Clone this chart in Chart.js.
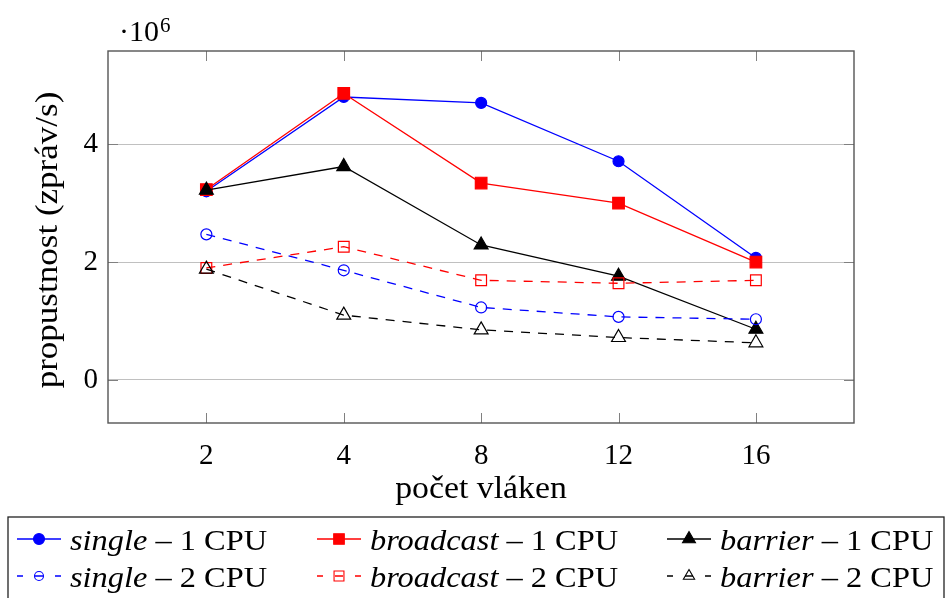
<!DOCTYPE html>
<html lang="cs">
<head>
    <meta charset="UTF-8">
    <title>Propustnost podle počtu vláken</title>
    <script src="https://cdn.jsdelivr.net/npm/chart.js"></script>
    <style>
        html, body { margin: 0; padding: 0; background: #fff; }
        .container { width: 947px; height: 598px; }
    </style>
</head>
<body>
    <div class="container">
        <canvas id="propustnostChart" width="947" height="598"></canvas>
    </div>

    <script>
        // data (hodnoty v milionech zpráv/s)
        const categories = ['2', '4', '8', '12', '16'];
        const yTicks = [0, 2, 4];
        const single1 = [3.20, 4.80, 4.70, 3.71, 2.07];
        const broadcast1 = [3.23, 4.86, 3.34, 3.00, 2.00];
        const barrier1 = [3.22, 3.62, 2.29, 1.76, 0.86];
        const single2 = [2.47, 1.86, 1.23, 1.07, 1.03];
        const broadcast2 = [1.90, 2.26, 1.69, 1.64, 1.69];
        const barrier2 = [1.88, 1.10, 0.85, 0.72, 0.63];
        const seriesNames = ['single', 'broadcast', 'barrier'];
        const cpuLabels = ['1 CPU', '2 CPU'];

        const serif = "'Liberation Serif', 'DejaVu Serif', serif";

        function toPoints(arr) {
            return arr.map((v, i) => ({ x: i, y: v }));
        }

        function makeSet(label, values, color, style, radius, filled, dashed, order) {
            return {
                label: label,
                data: toPoints(values),
                borderColor: color,
                borderWidth: 1.3,
                borderDash: dashed ? [9, 8] : [],
                pointStyle: style,
                pointRadius: radius,
                pointBorderWidth: 1.2,
                pointBorderColor: color,
                pointBackgroundColor: filled ? color : 'rgba(0,0,0,0)',
                tension: 0,
                fill: false,
                order: order
            };
        }

        // text trochu roztažený do šířky (Computer Modern je širší než Times)
        function wideText(ctx, text, x, y, sx) {
            ctx.save();
            ctx.translate(x, y);
            ctx.scale(sx, 1);
            ctx.fillText(text, 0, 0);
            ctx.restore();
            return ctx.measureText(text).width * sx;
        }

        // vlastní kreslení značky do legendy
        function drawMarker(ctx, style, x, y, r, filled, color) {
            ctx.save();
            ctx.setLineDash([]);
            ctx.beginPath();
            if (style === 'circle') {
                ctx.arc(x, y, r, 0, Math.PI * 2);
            } else if (style === 'rect') {
                const s = r * Math.SQRT1_2;
                ctx.rect(x - s, y - s, 2 * s, 2 * s);
            } else {
                for (let k = 0; k < 3; k++) {
                    const a = k * 2 * Math.PI / 3;
                    const px = x + Math.sin(a) * r, py = y - Math.cos(a) * r;
                    if (k) ctx.lineTo(px, py); else ctx.moveTo(px, py);
                }
                ctx.closePath();
            }
            if (filled) { ctx.fillStyle = color; ctx.fill(); }
            ctx.lineWidth = 1.1;
            ctx.strokeStyle = color;
            ctx.stroke();
            ctx.restore();
        }

        // rámeček, značky os, popisky os
        const axisFrame = {
            id: 'axisFrame',
            afterDatasetsDraw(chart) {
                const ctx = chart.ctx;
                const a = chart.chartArea;
                const xs = chart.scales.x, ys = chart.scales.y;
                ctx.save();
                ctx.strokeStyle = '#808080';
                ctx.lineWidth = 1;
                ctx.beginPath();
                xs.ticks.forEach(t => {
                    const px = Math.round(xs.getPixelForValue(t.value)) + 0.5;
                    ctx.moveTo(px, a.top); ctx.lineTo(px, a.top + 10);
                    ctx.moveTo(px, a.bottom); ctx.lineTo(px, a.bottom - 10);
                });
                ys.ticks.forEach(t => {
                    const py = Math.round(ys.getPixelForValue(t.value)) + 0.5;
                    ctx.moveTo(a.left, py); ctx.lineTo(a.left + 10, py);
                    ctx.moveTo(a.right, py); ctx.lineTo(a.right - 10, py);
                });
                ctx.stroke();
                ctx.strokeStyle = '#555';
                ctx.lineWidth = 1.4;
                ctx.strokeRect(a.left, a.top, a.right - a.left, a.bottom - a.top);

                ctx.fillStyle = '#000';
                ctx.font = '31px ' + serif;
                ctx.textAlign = 'center';
                ctx.textBaseline = 'alphabetic';
                wideText(ctx, 'počet vláken', (a.left + a.right) / 2, 498, 1.09);

                ctx.save();
                ctx.translate(57, 240);
                ctx.rotate(-Math.PI / 2);
                wideText(ctx, 'propustnost (zpráv/s)', 0, 0, 1.13);
                ctx.restore();

                ctx.textAlign = 'left';
                ctx.font = '30px ' + serif;
                ctx.fillText('·10', 119, 41);
                const w = ctx.measureText('·10').width;
                ctx.font = '21px ' + serif;
                ctx.fillText('6', 119 + w + 1, 32);
                ctx.restore();
            }
        };

        const legendBox = {
            id: 'legendBox',
            afterDraw(chart) {
                const ctx = chart.ctx;
                const colX = [17, 317, 667];
                const rowY = [539, 576];
                const baseY = [550, 587];
                const sx = 1.08;
                ctx.save();
                ctx.strokeStyle = '#222';
                ctx.lineWidth = 1.3;
                ctx.strokeRect(8, 517, 936, 100);
                chart.data.datasets.forEach((ds, i) => {
                    const col = i % 3, row = Math.floor(i / 3);
                    const x0 = colX[col], y = rowY[row];
                    ctx.strokeStyle = ds.borderColor;
                    ctx.lineWidth = 1.3;
                    ctx.beginPath();
                    if (row === 0) {
                        ctx.moveTo(x0, y); ctx.lineTo(x0 + 44, y);
                    } else {
                        ctx.moveTo(x0, y); ctx.lineTo(x0 + 6, y);
                        ctx.moveTo(x0 + 38, y); ctx.lineTo(x0 + 44, y);
                        ctx.moveTo(x0 + 18, y); ctx.lineTo(x0 + 26, y);
                    }
                    ctx.stroke();
                    let r;
                    if (ds.pointStyle === 'triangle') r = row === 0 ? 7.5 : 6.5;
                    else if (ds.pointStyle === 'rect') r = row === 0 ? 7.5 : 7;
                    else r = row === 0 ? 5.5 : 4.5;
                    drawMarker(ctx, ds.pointStyle, x0 + 22, y, r, row === 0, ds.borderColor);

                    ctx.fillStyle = '#000';
                    ctx.textAlign = 'left';
                    ctx.textBaseline = 'alphabetic';
                    ctx.font = 'italic 30px ' + serif;
                    const w = wideText(ctx, seriesNames[col], x0 + 53, baseY[row], sx);
                    ctx.font = '30px ' + serif;
                    wideText(ctx, ' – ' + cpuLabels[row], x0 + 53 + w, baseY[row], sx);
                });
                ctx.restore();
            }
        };

        document.addEventListener('DOMContentLoaded', () => {
            const ctx = document.getElementById('propustnostChart').getContext('2d');
            new Chart(ctx, {
                type: 'line',
                data: {
                    datasets: [
                        makeSet('single – 1 CPU', single1, '#0000ff', 'circle', 5.5, true, false, 6),
                        makeSet('broadcast – 1 CPU', broadcast1, '#ff0000', 'rect', 8.2, true, false, 5),
                        makeSet('barrier – 1 CPU', barrier1, '#000000', 'triangle', 8, true, false, 4),
                        makeSet('single – 2 CPU', single2, '#0000ff', 'circle', 5.5, false, true, 3),
                        makeSet('broadcast – 2 CPU', broadcast2, '#ff0000', 'rect', 7.6, false, true, 2),
                        makeSet('barrier – 2 CPU', barrier2, '#000000', 'triangle', 8, false, true, 1)
                    ]
                },
                options: {
                    responsive: false,
                    animation: false,
                    layout: { padding: { top: 51, right: 93, bottom: 0, left: 0 } },
                    plugins: {
                        legend: { display: false },
                        tooltip: { enabled: false }
                    },
                    scales: {
                        x: {
                            type: 'linear',
                            min: -0.716,
                            max: 4.714,
                            grid: { display: false },
                            border: { display: false },
                            afterBuildTicks: axis => {
                                axis.ticks = categories.map((c, i) => ({ value: i }));
                            },
                            ticks: {
                                callback: value => categories[value],
                                color: '#000',
                                font: { family: serif, size: 29 },
                                padding: 8,
                                maxRotation: 0,
                                autoSkip: false
                            },
                            afterFit: axis => { axis.height = 175; }
                        },
                        y: {
                            min: -0.73,
                            max: 5.58,
                            grid: { color: '#c0c0c0', lineWidth: 1, drawTicks: false },
                            border: { display: false },
                            afterBuildTicks: axis => {
                                axis.ticks = yTicks.map(v => ({ value: v }));
                            },
                            ticks: {
                                color: '#000',
                                font: { family: serif, size: 29 },
                                padding: 10
                            },
                            afterFit: axis => { axis.width = 108; }
                        }
                    }
                },
                plugins: [axisFrame, legendBox]
            });
        });
    </script>
</body>
</html>
